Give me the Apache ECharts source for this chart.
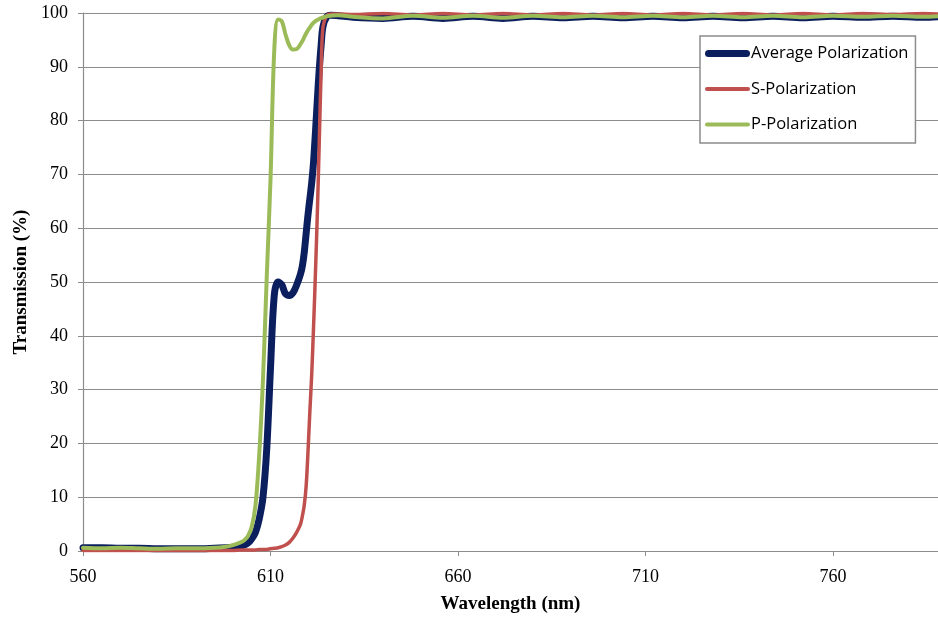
<!DOCTYPE html>
<html>
<head>
<meta charset="utf-8">
<script src="https://cdn.jsdelivr.net/npm/echarts@6/dist/echarts.min.js"></script>
<style>
  html, body { margin: 0; padding: 0; background: #fff; }
  #chart { width: 938px; height: 619px; }
</style>
</head>
<body>
<div id="chart"></div>
<script>
// Wavelength samples (nm), shared by all three curves
const wavelengths = [560, 565, 570, 575, 580, 585, 590, 595, 598, 600, 602, 603, 604, 605, 606, 607, 608, 609, 610,
  611, 612, 613, 614, 615, 616, 617, 618, 618.5, 619, 619.5, 620, 620.5, 621, 621.5, 622, 622.5, 623, 623.5, 624,
  625, 626, 628, 632, 640, 648, 656, 664, 672, 680, 688, 696, 704, 712, 720, 728, 736, 744, 752, 760, 768, 776, 784, 788];

// Transmission (%) for each polarization state
const averagePol = [0.6, 0.6, 0.5, 0.5, 0.4, 0.4, 0.4, 0.5, 0.6, 0.7, 0.9, 1.1, 1.5, 2.3, 3.5, 6, 10, 19, 34,
  47.5, 50, 49.5, 47.8, 47.5, 48.0, 49.5, 51.5, 53, 55.5, 59, 62.5, 65.5, 68.5, 72.5, 78, 84, 89.5, 94, 97.5,
  99.3, 99.6, 99.5, 99.2, 99.0, 99.4, 99.0, 99.4, 99.0, 99.4, 99.1, 99.4, 99.1, 99.4, 99.1, 99.4, 99.1, 99.4, 99.1, 99.4, 99.2, 99.4, 99.2, 99.3];

const sPol = [0.1, 0.1, 0.1, 0.1, 0.1, 0.1, 0.1, 0.1, 0.1, 0.1, 0.2, 0.2, 0.2, 0.2, 0.2, 0.3, 0.3, 0.3, 0.4,
  0.5, 0.6, 0.8, 1.1, 1.6, 2.4, 3.5, 5, 6.5, 8.5, 12, 18.5, 26, 33, 42, 52, 63, 76, 89, 97.5,
  99.5, 99.8, 99.8, 99.7, 99.9, 99.6, 99.9, 99.6, 99.9, 99.6, 99.9, 99.6, 99.9, 99.6, 99.9, 99.6, 99.9, 99.6, 99.9, 99.6, 99.9, 99.7, 99.9, 99.8];

const pPol = [0.6, 0.5, 0.6, 0.5, 0.4, 0.5, 0.5, 0.6, 0.8, 1.1, 1.6, 2.0, 2.8, 4.5, 8.5, 18, 32, 51, 69,
  93, 98.8, 98.5, 96, 94, 93.2, 93.3, 94.2, 94.8, 95.5, 96.2, 96.8, 97.3, 97.8, 98.2, 98.5, 98.7, 98.9, 99.05, 99.2,
  99.4, 99.5, 99.6, 99.3, 99.0, 99.5, 99.1, 99.5, 99.1, 99.5, 99.2, 99.5, 99.2, 99.5, 99.2, 99.5, 99.2, 99.5, 99.2, 99.5, 99.3, 99.5, 99.3, 99.4];

const seriesNames = ['Average Polarization', 'S-Polarization', 'P-Polarization'];
const seriesColors = ['#0b1f5e', '#c0504d', '#9bbb59'];
const seriesWidths = [7, 3.5, 4];
const seriesValues = [averagePol, sPol, pPol];

// Legend swatches: plain bars whose thickness follows each line width
const legendIcons = [
  'path://M3.5,0 H41.5 A3.5,3.5 0 0 1 41.5,7 H3.5 A3.5,3.5 0 0 1 3.5,0 Z',
  'path://M2,0 H43 A2,2 0 0 1 43,4 H2 A2,2 0 0 1 2,0 Z',
  'path://M2,0 H43 A2,2 0 0 1 43,4 H2 A2,2 0 0 1 2,0 Z'
];

const chart = echarts.init(document.getElementById('chart'), null, { renderer: 'canvas' });

const gridColor = '#8c8c8c';
const serif = '"Liberation Serif", "Times New Roman", serif';

chart.setOption({
  animation: false,
  backgroundColor: '#fff',
  grid: { left: 83, top: 13, right: 0, bottom: 68, containLabel: false, outerBoundsMode: 'none' },
  legend: {
    orient: 'vertical',
    left: 700,
    top: 36,
    padding: [9, 7, 10, 5],
    itemGap: 18.5,
    itemWidth: 45,
    itemHeight: 16,
    backgroundColor: '#fff',
    borderColor: '#8c8c8c',
    borderWidth: 1.5,
    symbolKeepAspect: true,
    textStyle: { fontFamily: '"Open Sans", sans-serif', fontSize: 16.5, color: '#000', padding: [0, 0, 0, -4] },
    data: seriesNames.map((n, i) => ({ name: n, icon: legendIcons[i] }))
  },
  xAxis: {
    type: 'value',
    min: 560,
    max: 788,
    interval: 50,
    name: 'Wavelength (nm)',
    nameLocation: 'middle',
    nameGap: 44,
    nameTextStyle: { fontFamily: serif, fontSize: 19, fontWeight: 'bold', color: '#000' },
    axisLine: { show: true, lineStyle: { color: gridColor, width: 1.2 } },
    axisTick: { show: true, inside: false, length: 5, lineStyle: { color: gridColor } },
    axisLabel: { showMaxLabel: false, fontFamily: serif, fontSize: 18, color: '#000', margin: 17 },
    splitLine: { show: false }
  },
  yAxis: {
    type: 'value',
    min: 0,
    max: 100,
    interval: 10,
    name: 'Transmission (%)',
    nameLocation: 'middle',
    nameGap: 51,
    nameTextStyle: { fontFamily: serif, fontSize: 19, fontWeight: 'bold', color: '#000' },
    axisLine: { show: true, lineStyle: { color: gridColor, width: 1.2 } },
    axisTick: { show: true, inside: false, length: 5, lineStyle: { color: gridColor } },
    axisLabel: { fontFamily: serif, fontSize: 18, color: '#000', margin: 15 },
    splitLine: { show: true, lineStyle: { color: gridColor, width: 1.2 } }
  },
  series: seriesNames.map((name, i) => ({
    name: name,
    type: 'line',
    data: wavelengths.map((w, j) => [w, seriesValues[i][j]]),
    smooth: 0.35,
    showSymbol: false,
    symbol: 'none',
    color: seriesColors[i],
    itemStyle: { color: seriesColors[i] },
    lineStyle: { color: seriesColors[i], width: seriesWidths[i], cap: 'round', join: 'round' },
    z: 2 + i
  }))
});
</script>
</body>
</html>
